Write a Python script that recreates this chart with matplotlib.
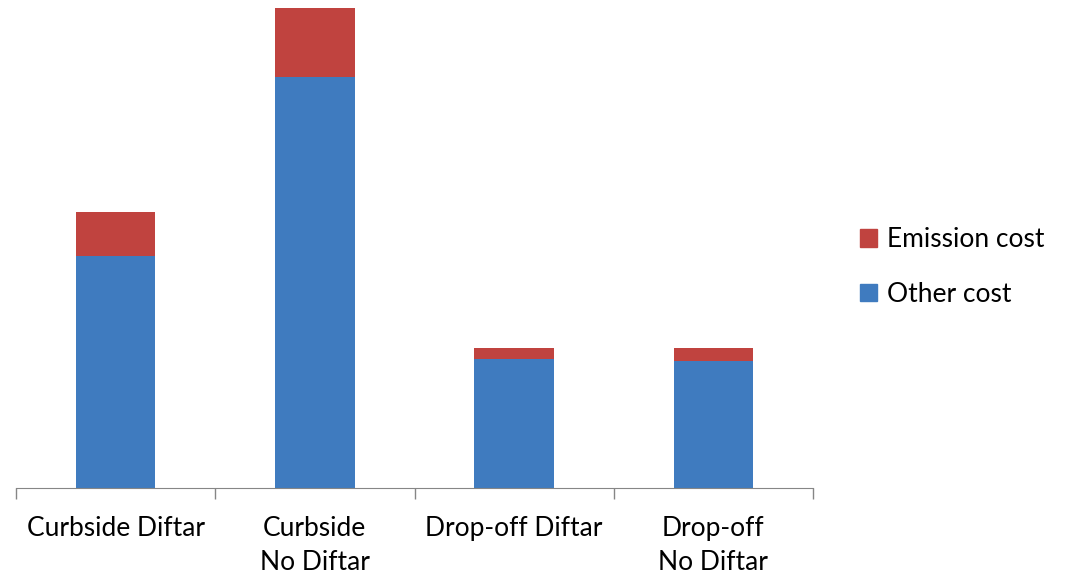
import numpy as np
import matplotlib.pyplot as plt
from matplotlib.patches import Patch

# data (arbitrary units)
categories = ['Curbside Diftar', 'Curbside\nNo Diftar', 'Drop-off Diftar', 'Drop-off\nNo Diftar']
other_cost = [232, 411, 129, 127]
emission_cost = [44, 69, 11, 13]

blue = '#3F7BBF'
red = '#C0433F'

plt.rcParams['font.family'] = ['Lato', 'DejaVu Sans']

fig = plt.figure(figsize=(10.7, 5.77), dpi=100)
ax = fig.add_axes([16 / 1070, 1 - 488 / 577, (813 - 16) / 1070, 488 / 577])

x = np.arange(len(categories))
ax.bar(x, other_cost, width=0.4, color=blue, zorder=2)
ax.bar(x, emission_cost, width=0.4, bottom=other_cost, color=red, zorder=2)

ax.set_xlim(-0.5, len(categories) - 0.5)
ax.set_ylim(0, 488)

for s in ['top', 'right', 'left']:
    ax.spines[s].set_visible(False)
ax.spines['bottom'].set_color('#868686')
ax.set_yticks([])

ax.set_xticks(x)
ax.set_xticklabels(categories, fontsize=19, linespacing=1.45)
ax.tick_params(axis='x', which='major', length=0, pad=20)
ax.set_xticks(np.arange(-0.5, len(categories)), minor=True)
ax.tick_params(axis='x', which='minor', length=8, color='#868686', width=1)

handles = [Patch(color=red, label='Emission cost'), Patch(color=blue, label='Other cost')]
fig.legend(handles=handles, loc='center left', bbox_to_anchor=(836 / 1070, 1 - 267 / 577),
           frameon=False, fontsize=19, handlelength=0.64, handleheight=0.64,
           handletextpad=0.38, labelspacing=1.1)

fig.savefig('out.png', dpi=100)
